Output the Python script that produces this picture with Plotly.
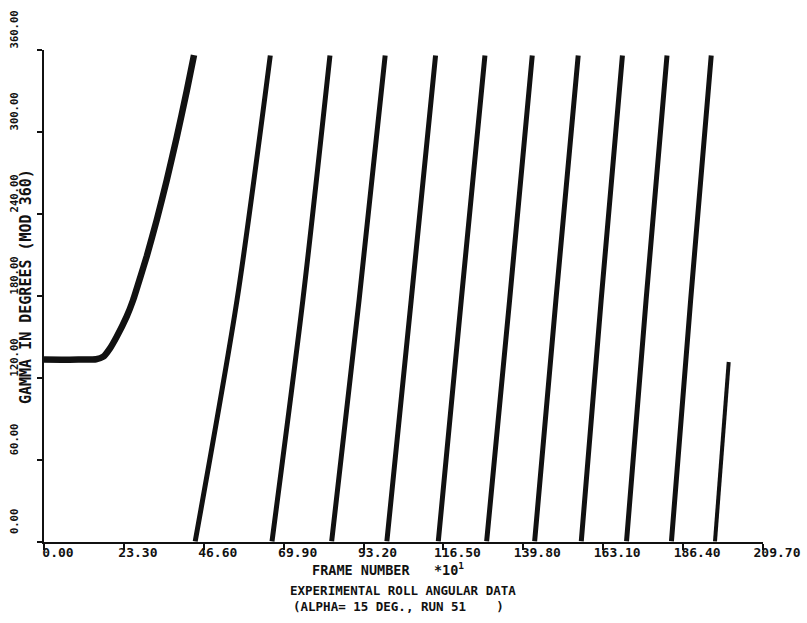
import plotly.graph_objects as go

# ---------------- data ----------------
# initial spin-up curve: frame number (x10) vs roll angle gamma (deg)
c1_frame = [0.0, 5.0, 10.0, 15.2, 17.3, 19.25, 21.2, 24.1, 26.0, 28.0, 30.0, 32.9, 35.8, 38.7, 41.6, 43.75]
c1_gamma = [133.6, 133.4, 133.5, 133.7, 135.6, 141.7, 150.2, 164.9, 177.1, 193.0, 209.4, 235.8, 264.7, 295.9, 329.6, 356.3]

# subsequent revolutions (mod 360): frame where gamma ~0, ~177, ~356
rev_start = [44.1, 66.5, 83.9, 100.0, 115.0, 129.1, 143.1, 156.7, 169.9, 183.0]
rev_mid = [56.3, 75.5, 91.9, 107.1, 121.7, 135.8, 149.3, 162.5, 175.6, 188.6]
rev_end = [66.0, 83.4, 99.5, 114.2, 128.6, 142.4, 155.8, 168.7, 181.7, 194.6]
rev_gamma = [0.5, 177.1, 356.0]

# last partial revolution
last_frame = [195.7, 199.7]
last_gamma = [0.5, 131.7]

x_ticks = [0.0, 23.3, 46.6, 69.9, 93.2, 116.5, 139.8, 163.1, 186.4, 209.7]
x_ticktext = ["0.00", "23.30", "46.60", "69.90", "93.20", "116.50", "139.80", "163.10", "186.40", "209.70"]
y_ticks = [0, 60, 120, 180, 240, 300, 360]
y_ticktext = ["0.00", "60.00", "120.00", "180.00", "240.00", "300.00", "360.00"]

# ---------------- figure ----------------
FONT = "DejaVu Sans Mono"
INK = "#111111"
W, H = 807, 623
ML, MR, MT, MB = 44, 44, 50, 81

fig = go.Figure()
fig.add_trace(go.Scatter(x=c1_frame, y=c1_gamma, mode="lines",
                         line=dict(color=INK, width=6.5, shape="spline", smoothing=0.5),
                         showlegend=False, hoverinfo="skip"))
for s, m, e in zip(rev_start, rev_mid, rev_end):
    fig.add_trace(go.Scatter(x=[s, m, e], y=rev_gamma, mode="lines",
                             line=dict(color=INK, width=5, shape="spline", smoothing=0.8),
                             showlegend=False, hoverinfo="skip"))
fig.add_trace(go.Scatter(x=last_frame, y=last_gamma, mode="lines",
                         line=dict(color=INK, width=4),
                         showlegend=False, hoverinfo="skip"))

pw = W - ML - MR
ph = H - MT - MB


def px(xp):
    return (xp - ML) / pw


def py(yp):
    return (H - MB - yp) / ph


annotations = [
    dict(text="GAMMA IN DEGREES (MOD 360)", x=px(26), y=py(287), textangle=-90,
         font=dict(family=FONT, size=15, color=INK, weight="bold")),
    dict(text="FRAME NUMBER   *10<sup>1</sup>", x=px(388), y=py(569),
         font=dict(family=FONT, size=13.5, color=INK, weight="bold")),
    dict(text="EXPERIMENTAL ROLL ANGULAR DATA", x=px(403), y=py(590),
         font=dict(family=FONT, size=12.5, color=INK, weight="bold")),
    dict(text="(ALPHA= 15 DEG., RUN 51    )", x=px(398), y=py(606),
         font=dict(family=FONT, size=12.5, color=INK, weight="bold")),
]
for a in annotations:
    a.update(xref="paper", yref="paper", showarrow=False, xanchor="center", yanchor="middle")

fig.update_layout(
    width=W, height=H,
    margin=dict(l=ML, r=MR, t=MT, b=MB, pad=0, autoexpand=False),
    paper_bgcolor="white", plot_bgcolor="white",
    annotations=annotations,
    xaxis=dict(range=[0, 209.7], tickvals=x_ticks, ticktext=x_ticktext,
               showline=True, linecolor=INK, linewidth=2, mirror=False,
               ticks="outside", ticklen=6, tickwidth=1.5, tickcolor=INK,
               showgrid=False, zeroline=False, automargin=False,
               ticklabelshift=14, ticklabelstandoff=-9,
               tickfont=dict(family=FONT, size=13, color=INK, weight="bold")),
    yaxis=dict(range=[0, 360], tickvals=y_ticks, ticktext=y_ticktext,
               showline=True, linecolor=INK, linewidth=2, mirror=False,
               ticks="outside", ticklen=5, tickwidth=1.5, tickcolor=INK,
               showgrid=False, zeroline=False, tickangle=-90, automargin=False,
               ticklabelshift=-19, ticklabelstandoff=15,
               tickfont=dict(family=FONT, size=10.5, color=INK, weight="bold")),
)

fig.write_html("out.html")
